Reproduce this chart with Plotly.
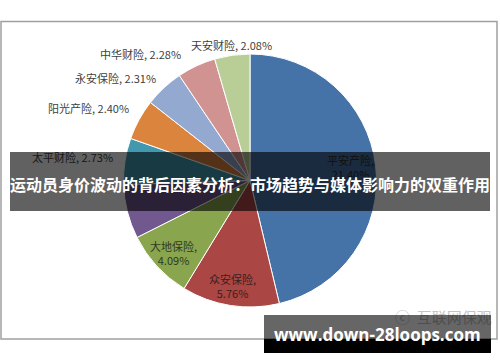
import plotly.graph_objects as go

# ---- data (clockwise from 12 o'clock) ----
companies = ["平安产险", "众安保险", "大地保险", "国寿财险", "太平财险",
             "阳光产险", "永安保险", "中华财险", "天安财险"]
shares = [21.40, 5.76, 4.09, 3.20, 2.73, 2.40, 2.31, 2.28, 2.08]
title_text = "运动员身价波动的背后因素分析：市场趋势与媒体影响力的双重作用"
watermark_cn = "互联网保观"
watermark_url = "www.down-28loops.com"

# ---- styles ----
colors = ["#4572A7", "#AA4643", "#89A54E", "#71588F", "#4198AF",
          "#DB843D", "#93A9CF", "#D19392", "#B9CD96"]
W, H = 500, 362

def px(x):
    return x / W

def py(y):
    return 1 - y / H

# label placement in pixels (center x, center y, two-line?, colour)
# (the label of the purple slice is fully hidden under the banner in the reference)
label_pos = {
    "平安产险": (350, 167, True, "#2a2a2a"),
    "众安保险": (232, 286, True, "#3a2020"),
    "大地保险": (173, 253, True, "#2f3a20"),
    "太平财险": (72, 157, False, "#404040"),
    "阳光产险": (88, 108, False, "#404040"),
    "永安保险": (115, 78, False, "#404040"),
    "中华财险": (140, 54, False, "#404040"),
    "天安财险": (231, 45, False, "#404040"),
}

fig = go.Figure()
fig.add_trace(go.Pie(
    labels=companies,
    values=shares,
    sort=False,
    direction="clockwise",
    rotation=0,
    textinfo="none",
    hoverinfo="skip",
    marker=dict(colors=colors, line=dict(color="white", width=1)),
    domain=dict(x=[px(123), px(377)], y=[py(307), py(54)]),
    showlegend=False,
))

annotations = []
FONT = "Noto Sans CJK SC"
for name, val in zip(companies, shares):
    if name not in label_pos:
        continue
    cx, cy, two, col = label_pos[name]
    if two:
        txt = f"{name},<br>{val:.2f}%"
    else:
        txt = f"{name}, {val:.2f}%"
    annotations.append(dict(
        x=px(cx), y=py(cy), xref="paper", yref="paper",
        text=txt, showarrow=False, xanchor="center", yanchor="middle",
        font=dict(family=FONT, size=11, color=col), align="center",
    ))

# faint watermark text (partly under the grey box)
annotations.append(dict(
    x=px(443), y=py(316), xref="paper", yref="paper",
    text="ⓒ  " + watermark_cn, showarrow=False, xanchor="center", yanchor="middle",
    font=dict(family=FONT, size=15, color="#c4c4c4"),
))

# dark banner box
annotations.append(dict(
    x=px(250), y=py(181.5), xref="paper", yref="paper",
    text=" ", showarrow=False, xanchor="center", yanchor="middle",
    width=480, height=59, bgcolor="rgba(0,0,0,0.62)", borderpad=0, borderwidth=0,
))
annotations.append(dict(
    x=px(250), y=py(184), xref="paper", yref="paper",
    text=f"<b>{title_text}</b>", showarrow=False, xanchor="center", yanchor="middle",
    font=dict(family=FONT, size=16, color="white"),
))

# watermark box (semi-transparent grey part)
annotations.append(dict(
    x=px(377.5), y=py(327), xref="paper", yref="paper",
    text=" ", showarrow=False, xanchor="center", yanchor="middle",
    width=227, height=24, bgcolor="rgba(0,0,0,0.6)", borderpad=0, borderwidth=0,
))
annotations.append(dict(
    x=px(377), y=py(334), xref="paper", yref="paper",
    text=f"<b>{watermark_url}</b>", showarrow=False, xanchor="center", yanchor="middle",
    font=dict(family="Open Sans", size=17, color="white"),
))

shapes = [
    # chart border
    dict(type="rect", xref="paper", yref="paper",
         x0=px(1), x1=px(497), y0=py(339), y1=py(21.5),
         line=dict(color="#a0a0a0", width=1.5), layer="below"),
    # black lower part of watermark box
    dict(type="rect", xref="paper", yref="paper",
         x0=px(264), x1=px(491), y0=py(353), y1=py(339),
         fillcolor="black", line=dict(width=0), layer="above"),
]

fig.update_layout(
    width=W, height=H,
    margin=dict(l=0, r=0, t=0, b=0),
    paper_bgcolor="white", plot_bgcolor="white",
    annotations=annotations, shapes=shapes,
)

fig.write_html("out.html")
